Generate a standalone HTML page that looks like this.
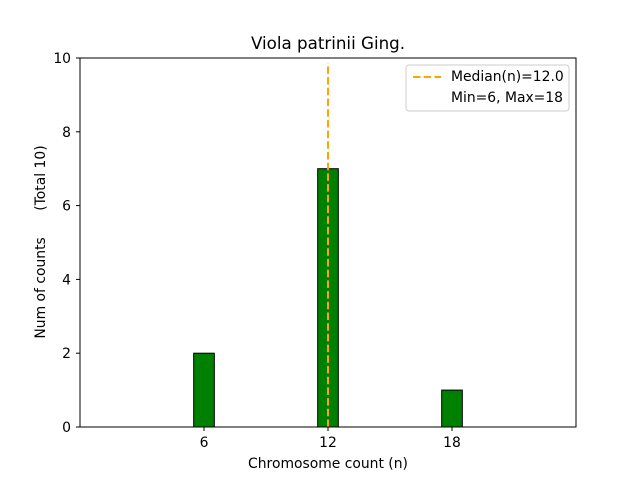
<!DOCTYPE html>
<html><head><meta charset="utf-8"><style>
body{margin:0;background:#fff;}
svg{display:block;font-family:"DejaVu Sans","Liberation Sans",sans-serif;}
</style></head><body>
<svg id="chart" width="640" height="480" viewBox="0 0 640 480">
<rect width="640" height="480" fill="#fff"/>
<text x="328" y="49" text-anchor="middle" font-size="16.7">Viola patrinii Ging.</text>
<g id="bars"></g>
<line id="median" stroke="#ffa500" stroke-width="2" stroke-dasharray="7.5,3.2"/>
<rect x="80" y="58" width="496" height="369" fill="none" stroke="#000" stroke-width="1"/>
<g id="xticks"></g>
<g id="yticks"></g>
<text x="328" y="468" text-anchor="middle" font-size="13.9">Chromosome count (n)</text>
<text transform="translate(45,242) rotate(-90)" text-anchor="middle" font-size="13.9" style="white-space:pre" xml:space="preserve">Num of counts      (Total 10)</text>
<g>
<rect x="406" y="65" width="163" height="46" rx="3" fill="#fff" fill-opacity="0.8" stroke="#ccc"/>
<line x1="413" y1="77" x2="441" y2="77" stroke="#ffa500" stroke-width="2" stroke-dasharray="7.5,3.2"/>
<text x="451" y="81" font-size="13.9">Median(n)=12.0</text>
<text x="451" y="102" font-size="13.9">Min=6, Max=18</text>
</g>
</svg>
<script>
const categories=[1,2,3,4,5,6,7,8,9,10,11,12,13,14,15,16,17,18,19,20,21];
const counts=[0,0,0,0,0,2,0,0,0,0,0,7,0,0,0,0,0,1,0,0,0];
const xTicks=[6,12,18];
const yTicks=[0,2,4,6,8,10];
const medianValue=12;
const NS="http://www.w3.org/2000/svg";
const X=v=>80+v*(496/24);
const Y=v=>427-v*(369/10);
const bars=document.getElementById('bars');
categories.forEach((c,i)=>{
  const r=document.createElementNS(NS,'rect');
  const x0=X(c-0.5),x1=X(c+0.5);
  r.setAttribute('x',x0);r.setAttribute('width',x1-x0);
  r.setAttribute('y',Y(counts[i]));r.setAttribute('height',Y(0)-Y(counts[i]));
  r.setAttribute('fill','#008000');r.setAttribute('stroke','#000');r.setAttribute('stroke-width','1');
  
  
  bars.appendChild(r);
});
const m=document.getElementById('median');
m.setAttribute('x1',X(medianValue));m.setAttribute('x2',X(medianValue));
m.setAttribute('y1',Y(0));m.setAttribute('y2',Y(10)+5);
const xt=document.getElementById('xticks');
xTicks.forEach(t=>{
  const l=document.createElementNS(NS,'line');
  l.setAttribute('x1',X(t));l.setAttribute('x2',X(t));l.setAttribute('y1',427);l.setAttribute('y2',431);l.setAttribute('stroke','#000');
  
  
  xt.appendChild(l);
  const s=document.createElementNS(NS,'text');
  s.setAttribute('x',X(t));s.setAttribute('y',447);s.setAttribute('text-anchor','middle');s.setAttribute('font-size','13.9');
  s.textContent=t;
  
  
  xt.appendChild(s);
});
const yt=document.getElementById('yticks');
yTicks.forEach(t=>{
  const l=document.createElementNS(NS,'line');
  l.setAttribute('x1',76);l.setAttribute('x2',80);l.setAttribute('y1',Y(t));l.setAttribute('y2',Y(t));l.setAttribute('stroke','#000');
  
  
  yt.appendChild(l);
  const s=document.createElementNS(NS,'text');
  s.setAttribute('x',71);s.setAttribute('y',Y(t)+5);s.setAttribute('text-anchor','end');s.setAttribute('font-size','13.9');
  s.textContent=t;
  
  
  yt.appendChild(s);
});
</script>
</body></html>
